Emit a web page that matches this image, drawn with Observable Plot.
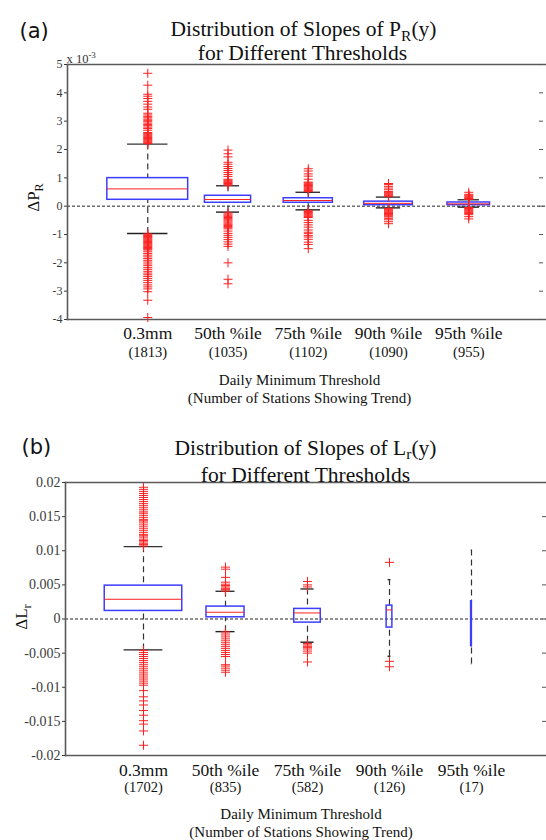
<!DOCTYPE html>
<html><head><meta charset="utf-8">
<script src="https://cdn.jsdelivr.net/npm/d3@7"></script>
<script src="https://cdn.jsdelivr.net/npm/@observablehq/plot@0.6"></script>
<style>
html,body{margin:0;padding:0;background:#fff;}
#fig{width:546px;height:840px;overflow:hidden;}
#fig svg{display:block;font-family:"Liberation Serif",serif;}
</style></head><body><div id="fig"></div>
<script>
// ---------- data ----------
const categories = ["0.3mm", "50th %ile", "75th %ile", "90th %ile", "95th %ile"];
const xLabel = "Daily Minimum Threshold\n(Number of Stations Showing Trend)";

// Panel (a): slopes of P_R(y), units of 10^-3
const titleA = ["Distribution of Slopes of P_{R}(y)", "for Different Thresholds"];
const yLabelA = "ΔP_{R}";
const exponentA = "x 10^{-3}";
const countsA = [1813, 1035, 1102, 1090, 955];
const q1A = [0.225, 0.12, 0.12, 0.035, 0.035];
const medianA = [0.61, 0.236, 0.20, 0.10, 0.08];
const q3A = [0.99, 0.367, 0.28, 0.16, 0.13];
const whiskerLowA = [-0.965, -0.21, -0.13, -0.06, -0.035];
const whiskerHighA = [2.19, 0.72, 0.49, 0.32, 0.226];
const outliersA = [
  [2.21,2.24,2.27,2.30,2.33,2.36,2.39,2.42,2.45,2.48,2.51,2.54,2.57,2.60,2.68,2.74,2.79,2.84,2.88,2.93,2.98,3.03,3.07,3.12,3.17,3.22,3.28,3.42,3.50,3.60,3.70,3.80,3.88,3.95,4.27,4.69,
   -0.98,-1.01,-1.04,-1.07,-1.10,-1.13,-1.16,-1.19,-1.22,-1.25,-1.28,-1.31,-1.34,-1.37,-1.40,-1.43,-1.46,-1.49,-1.52,-1.55,-1.61,-1.67,-1.73,-1.79,-1.85,-1.91,-1.97,-2.04,-2.10,-2.17,-2.23,-2.30,-2.36,-2.42,-2.48,-2.55,-2.62,-2.70,-2.78,-2.85,-2.92,-3.02,-3.32,-3.93],
  [0.74,0.77,0.80,0.83,0.86,0.89,0.92,0.95,1.05,1.12,1.19,1.26,1.33,1.40,1.48,1.55,1.74,1.85,1.98,
   -0.24,-0.28,-0.32,-0.36,-0.40,-0.44,-0.48,-0.52,-0.56,-0.60,-0.64,-0.68,-0.72,-0.76,-0.80,-0.88,-0.96,-1.03,-1.10,-1.18,-1.26,-1.34,-1.42,-2.00,-2.58,-2.74],
  [0.52,0.55,0.58,0.61,0.64,0.67,0.70,0.73,0.76,0.79,0.82,0.85,0.95,1.06,1.14,1.24,1.32,
   -0.16,-0.19,-0.22,-0.25,-0.28,-0.31,-0.34,-0.37,-0.40,-0.50,-0.58,-0.66,-0.74,-0.84,-0.92,-0.97,-1.04,-1.09,-1.17,-1.27,-1.35,-1.50],
  [0.34,0.37,0.40,0.43,0.46,0.49,0.52,0.58,0.64,0.70,0.76,0.80,
   -0.08,-0.11,-0.14,-0.17,-0.20,-0.23,-0.26,-0.29,-0.32,-0.35,-0.38,-0.43,-0.48,-0.55,-0.62],
  [0.24,0.27,0.30,0.33,0.36,0.39,0.42,0.49,
   -0.05,-0.08,-0.11,-0.14,-0.17,-0.20,-0.23,-0.26,-0.30,-0.37,-0.45]
];
const yDomainA = [-4, 5];
const yTicksA = [-4, -3, -2, -1, 0, 1, 2, 3, 4, 5];

// Panel (b): slopes of L_r(y)
const titleB = ["Distribution of Slopes of L_{r}(y)", "for Different Thresholds"];
const yLabelB = "ΔL_{r}";
const countsB = [1702, 835, 582, 126, 17];
const q1B = [0.00118, 0.00025, -0.00053, -0.00126, -0.0040];
const medianB = [0.00289, 0.00099, 0.00089, 0.00133, 0.00157];
const q3B = [0.00489, 0.00182, 0.00148, 0.00196, 0.0026];
const whiskerLowB = [-0.00453, -0.00185, -0.0034, -0.00546, -0.0066];
const whiskerHighB = [0.0106, 0.00406, 0.0044, 0.00577, 0.0101];
const outliersB = [
  [0.0107,0.0109,0.0111,0.0113,0.0115,0.0117,0.0120,0.0122,0.0124,0.0127,0.0130,0.0133,0.0136,0.0139,0.0142,0.0144,0.0146,0.0149,0.0152,0.0155,0.0157,0.0160,0.0163,0.0166,0.0169,0.0172,0.0175,0.0178,0.0181,0.0184,0.0187,0.0190,0.0193,
   -0.0046,-0.0049,-0.0052,-0.0055,-0.0058,-0.0061,-0.0064,-0.0067,-0.0070,-0.0073,-0.0076,-0.0079,-0.0082,-0.0085,-0.0088,-0.0091,-0.0094,-0.0097,-0.0105,-0.0114,-0.0120,-0.0126,-0.0134,-0.0141,-0.0149,-0.0154,-0.0164,-0.0185],
  [0.0041,0.0043,0.0045,0.0047,0.0049,0.0051,0.0054,0.0061,0.0073,0.0076,
   -0.0019,-0.0022,-0.0025,-0.0028,-0.0031,-0.0034,-0.0037,-0.0040,-0.0043,-0.0046,-0.0049,-0.0052,-0.0055,-0.0067,-0.0069,-0.0072,-0.0075,-0.0078],
  [0.0047,0.0050,0.0055,
   -0.0036,-0.0038,-0.0040,-0.0042,-0.0044,-0.0047,-0.0050,-0.0063],
  [0.0083, -0.0062, -0.0070],
  []
];
const yDomainB = [-0.02, 0.02];
const yTicksB = [-0.02, -0.015, -0.01, -0.005, 0, 0.005, 0.01, 0.015, 0.02];

// box width is proportional to the number of stations
const stationsPerBoxUnit = 1800;

// ---------- drawing ----------
const SERIF = "Liberation Serif";
const BLUE = "#3d3dff", RED = "#ff2020";

const thinPlus = {
  draw(ctx, size) {
    const r = Math.sqrt(size / Math.PI);
    ctx.moveTo(-r, 0); ctx.lineTo(r, 0);
    ctx.moveTo(0, -r); ctx.lineTo(0, r);
  }
};

function buildPanel(p) {
  const rows = categories.map((name, k) => ({
    pos: k + 1, name, count: "(" + p.counts[k] + ")",
    q1: p.q1[k], med: p.median[k], q3: p.q3[k], lo: p.lo[k], hi: p.hi[k],
    half: p.counts[k] / stationsPerBoxUnit / 2
  }));
  const outs = rows.flatMap((r, k) => p.outliers[k].map(v => ({pos: r.pos, v})));
  const innerW = p.width - p.marginLeft;
  const T = {fontFamily: SERIF, fill: "#111"};
  const marks = [
    Plot.ruleY([0], {stroke: "#222", strokeWidth: 1, strokeDasharray: "3,2"}),
    Plot.frame({anchor: "top", stroke: "#5a5a5a", strokeWidth: 1.6}),
    Plot.frame({anchor: "bottom", stroke: "#5a5a5a", strokeWidth: 1.6}),
    Plot.frame({anchor: "left", stroke: "#5a5a5a", strokeWidth: 1.6}),
    Plot.tickY(p.yTicks, {y: d => d, stroke: "#555", insetLeft: innerW - p.rightTick[0], insetRight: p.rightTick[1]}),
    Plot.axisY({ticks: p.yTicks, tickFormat: d => String(d), tickSize: 3, tickPadding: 2,
      fontSize: p.yTickFont, fontFamily: SERIF, color: "#3a3a3a", label: null}),
    // whiskers
    Plot.ruleX(rows, {x: "pos", y1: "hi", y2: "q3", stroke: "#333", strokeWidth: 1.2, strokeDasharray: "6,4"}),
    Plot.ruleX(rows, {x: "pos", y1: "lo", y2: "q1", stroke: "#333", strokeWidth: 1.2, strokeDasharray: "6,4"}),
    Plot.ruleY(rows, {y: "hi", x1: d => d.pos - d.half / 2, x2: d => d.pos + d.half / 2, stroke: "#333", strokeWidth: 1.4}),
    Plot.ruleY(rows, {y: "lo", x1: d => d.pos - d.half / 2, x2: d => d.pos + d.half / 2, stroke: "#222", strokeWidth: 1.4}),
    // boxes
    Plot.rect(rows, {x1: d => d.pos - d.half, x2: d => d.pos + d.half, y1: "q1", y2: "q3", fill: "none", stroke: BLUE, strokeWidth: 1.5}),
    Plot.ruleY(rows, {y: "med", x1: d => d.pos - d.half, x2: d => d.pos + d.half, stroke: RED, strokeWidth: 1}),
    // outliers
    Plot.dot(outs, {x: "pos", y: "v", symbol: thinPlus, r: 4.5, fill: "none", stroke: RED, strokeWidth: 1}),
    // category labels
    Plot.text(rows, {...T, x: "pos", text: "name", frameAnchor: "bottom", dy: p.nameDy, fontSize: 17.5}),
    Plot.text(rows, {...T, x: "pos", text: "count", frameAnchor: "bottom", dy: p.countDy, fontSize: 14.5}),
    Plot.text([xLabel], {...T, text: d => d, frameAnchor: "bottom", lineAnchor: "top", dy: p.xLabelDy, dx: p.xLabelDx, fontSize: 15, lineHeight: 1.2}),
    // titles
    Plot.text([p.title[0]], {...T, text: d => d, frameAnchor: "top", dy: p.titleDy[0], dx: p.titleDx[0], fontSize: 21.5}),
    Plot.text([p.title[1]], {...T, text: d => d, frameAnchor: "top", dy: p.titleDy[1], dx: p.titleDx[1], fontSize: 21.5}),
    Plot.text([p.letter], {text: d => d, frameAnchor: "top-left", textAnchor: "start", dx: p.letterDx, dy: p.letterDy, fontSize: 21, fontFamily: "DejaVu Sans", fill: "#111"}),
    Plot.text([p.yLabel], {...T, text: d => d, frameAnchor: "left", textAnchor: "middle", rotate: -90, dx: p.yLabelDx, dy: p.yLabelDy, fontSize: 17})
  ];
  if (p.exponent) marks.push(Plot.text([p.exponent], {...T, fill: "#333", text: d => d, frameAnchor: "top-left", textAnchor: "start", dx: -1, dy: -10.5, fontSize: 12.5}));
  return Plot.plot({
    width: p.width, height: p.height,
    marginTop: p.marginTop, marginBottom: p.marginBottom, marginLeft: p.marginLeft, marginRight: 0,
    style: "font-family: 'Liberation Serif', serif; background: white; color: #222; overflow: visible;",
    x: {domain: [0, 6], range: p.xRange, axis: null},
    y: {domain: p.yDomain},
    marks
  });
}

// turn "_{..}" / "^{..}" into sub/superscript tspans
function richify(svg) {
  svg.querySelectorAll("text").forEach(t => {
    if (t.querySelector("tspan")) return;
    const s = t.textContent;
    if (!/[_^]\{/.test(s)) return;
    const fs = parseFloat(getComputedStyle(t).fontSize) || 14;
    t.textContent = "";
    const add = (txt, dy, small) => {
      const ts = document.createElementNS("http://www.w3.org/2000/svg", "tspan");
      ts.textContent = txt;
      if (dy) ts.setAttribute("dy", dy);
      if (small) ts.setAttribute("font-size", small);
      t.appendChild(ts);
    };
    const re = /([_^])\{([^}]*)\}/g;
    let last = 0, m, pending = 0;
    while ((m = re.exec(s))) {
      if (m.index > last) { add(s.slice(last, m.index), pending, null); pending = 0; }
      const off = m[1] === "_" ? 0.22 * fs : -0.42 * fs;
      add(m[2], pending + off, 0.72 * fs);
      pending = -off;
      last = re.lastIndex;
    }
    if (last < s.length) add(s.slice(last), pending, null);
  });
}

const fig = document.getElementById("fig");
const svgA = buildPanel({
  width: 546, height: 420, marginTop: 64, marginBottom: 101, marginLeft: 67,
  xRange: [67, 548.5], yDomain: yDomainA, yTicks: yTicksA, yTickFont: 12,
  counts: countsA, q1: q1A, median: medianA, q3: q3A, lo: whiskerLowA, hi: whiskerHighA, outliers: outliersA,
  title: titleA, titleDy: [-43.5, -19.3], titleDx: [-3.5, -4.5],
  letter: "(a)", letterDx: -48, letterDy: -41.7,
  yLabel: yLabelA, yLabelDx: -34, yLabelDy: 5.5, exponent: exponentA,
  rightTick: [7, 3], nameDy: 19, countDy: 37.5, xLabelDx: -7.5, xLabelDy: 52.5
});
const svgB = buildPanel({
  width: 546, height: 420, marginTop: 62, marginBottom: 85, marginLeft: 65,
  xRange: [61, 553], yDomain: yDomainB, yTicks: yTicksB, yTickFont: 14,
  counts: countsB, q1: q1B, median: medianB, q3: q3B, lo: whiskerLowB, hi: whiskerHighB, outliers: outliersB,
  title: titleB, titleDy: [-43, -15.7], titleDx: [-0.5, -0.5],
  letter: "(b)", letterDx: -44, letterDy: -43.7,
  yLabel: yLabelB, yLabelDx: -44, yLabelDy: -2, exponent: null,
  rightTick: [4, 0], nameDy: 20, countDy: 36.5, xLabelDx: -5, xLabelDy: 51
});
fig.appendChild(svgA);
fig.appendChild(svgB);
richify(svgA);
richify(svgB);
</script>
</body></html>
